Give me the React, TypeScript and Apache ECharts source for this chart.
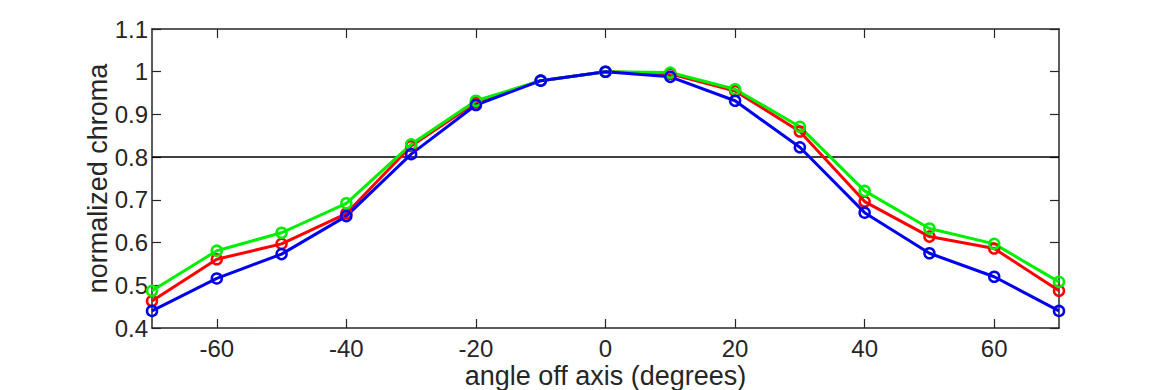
import React, { useEffect, useRef } from "react";
import * as echarts from "echarts";

const angles = [-70, -60, -50, -40, -30, -20, -10, 0, 10, 20, 30, 40, 50, 60, 70];
const redValues = [0.463, 0.561, 0.597, 0.668, 0.826, 0.928, 0.979, 1.0, 0.995, 0.955, 0.86, 0.696, 0.614, 0.586, 0.487];
const greenValues = [0.487, 0.581, 0.623, 0.692, 0.83, 0.932, 0.979, 1.0, 0.998, 0.959, 0.871, 0.721, 0.633, 0.597, 0.508];
const blueValues = [0.44, 0.516, 0.573, 0.662, 0.807, 0.922, 0.979, 1.0, 0.988, 0.932, 0.823, 0.67, 0.575, 0.52, 0.44];
const xTickValues = [-60, -40, -20, 0, 20, 40, 60];
const thresholdValue = 0.8;

const AXIS_COLOR = "#262626";
const FONT = "Liberation Sans, Arial, Helvetica, sans-serif";

export default function App() {
  const ref = useRef<HTMLDivElement>(null);
  useEffect(() => {
    if (!ref.current) return;
    const chart = echarts.init(ref.current, undefined, { renderer: "svg" });
    const mk = (name: string, color: string, vals: number[]) => ({
      name,
      type: "line",
      data: angles.map((a, i) => [a, vals[i]]),
      symbol: "circle",
      symbolSize: 10,
      showSymbol: true,
      lineStyle: { color, width: 3 },
      itemStyle: { color: "rgba(0,0,0,0)", borderColor: color, borderWidth: 2.5 },
      z: 3,
    });
    const axisLine = { show: true, lineStyle: { color: AXIS_COLOR, width: 1.5 } };
    chart.setOption({
      animation: false,
      backgroundColor: "#ffffff",
      grid: { left: 152, top: 29, width: 907, height: 299, containLabel: false, outerBoundsMode: "none" },
      xAxis: [
        {
          type: "value",
          min: -70,
          max: 70,
          position: "bottom",
          axisLine: { ...axisLine, onZero: false },
          axisTick: { show: true, inside: true, length: 9, customValues: xTickValues, lineStyle: { color: AXIS_COLOR, width: 1.2 } },
          axisLabel: { customValues: xTickValues, color: AXIS_COLOR, fontSize: 24, lineHeight: 22, fontFamily: FONT, margin: 9 },
          splitLine: { show: false },
          name: "angle off axis (degrees)",
          nameLocation: "middle",
          nameGap: 35,
          nameMoveOverlap: false,
          nameTextStyle: { color: AXIS_COLOR, fontSize: 27, fontFamily: FONT, lineHeight: 26 },
        },
        {
          type: "value",
          min: -70,
          max: 70,
          position: "top",
          axisLine: { ...axisLine, onZero: false },
          axisTick: { show: true, inside: true, length: 9, customValues: xTickValues, lineStyle: { color: AXIS_COLOR, width: 1.2 } },
          axisLabel: { show: false },
          splitLine: { show: false },
        },
      ],
      yAxis: [
        {
          type: "value",
          min: 0.4,
          max: 1.1,
          interval: 0.1,
          position: "left",
          axisLine: { ...axisLine, onZero: false },
          axisTick: { show: true, inside: true, length: 9, lineStyle: { color: AXIS_COLOR, width: 1.2 } },
          axisLabel: {
            color: AXIS_COLOR,
            fontSize: 24,
            lineHeight: 24,
            fontFamily: FONT,
            margin: 4,
            formatter: (v: number) => String(Math.round(v * 10) / 10),
          },
          splitLine: { show: false },
          name: "normalized chroma",
          nameLocation: "middle",
          nameGap: 41,
          nameMoveOverlap: false,
          nameTextStyle: { color: AXIS_COLOR, fontSize: 27, fontFamily: FONT, lineHeight: 26 },
        },
        {
          type: "value",
          min: 0.4,
          max: 1.1,
          interval: 0.1,
          position: "right",
          axisLine: { ...axisLine, onZero: false },
          axisTick: { show: true, inside: true, length: 9, lineStyle: { color: AXIS_COLOR, width: 1.2 } },
          axisLabel: { show: false },
          splitLine: { show: false },
        },
      ],
      series: [
        {
          ...mk("red", "#ff0000", redValues),
          markLine: {
            silent: true,
            symbol: "none",
            label: { show: false },
            lineStyle: { color: "#000000", width: 1.5, type: "solid" },
            data: [{ yAxis: thresholdValue }],
            z: 1,
          },
        },
        mk("green", "#00ee00", greenValues),
        mk("blue", "#0000ee", blueValues),
      ],
    });
    return () => chart.dispose();
  }, []);
  return (
    <div
      ref={ref}
      style={{ position: "fixed", left: 0, top: 0, width: 1170, height: 390, background: "#fff" }}
    />
  );
}
